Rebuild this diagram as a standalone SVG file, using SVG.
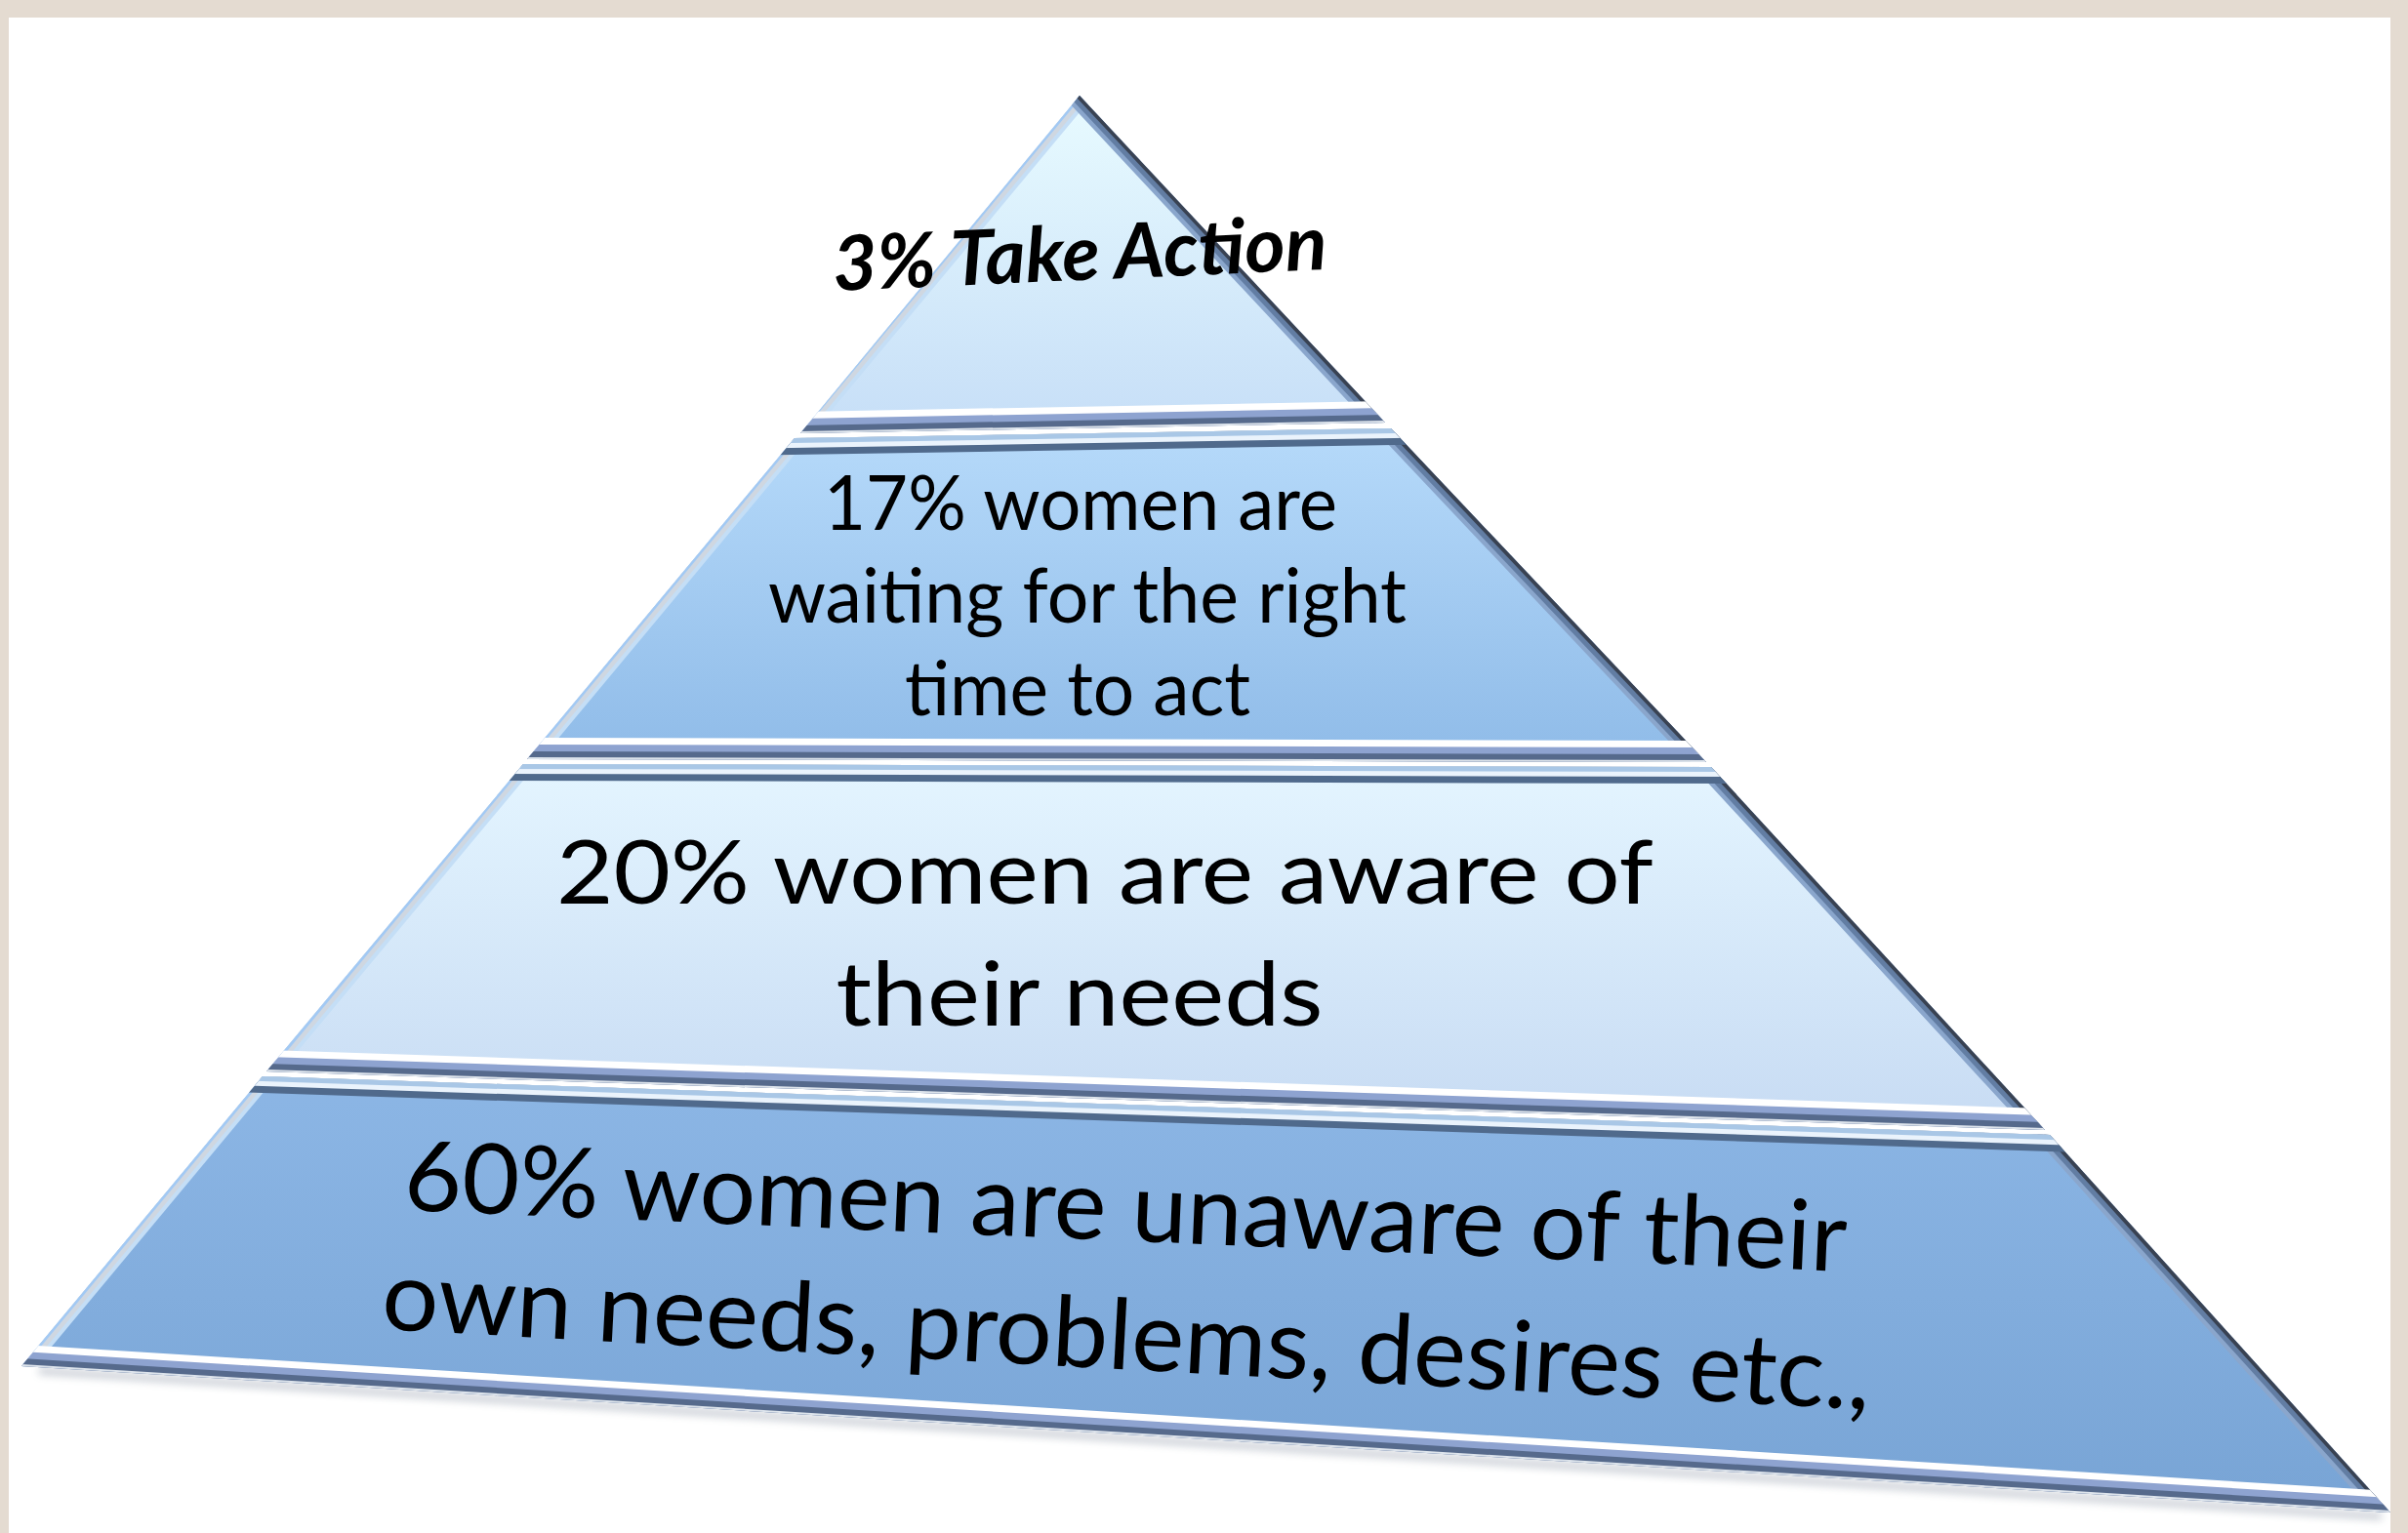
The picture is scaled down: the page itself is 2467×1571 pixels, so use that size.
<svg xmlns="http://www.w3.org/2000/svg" width="2467" height="1571" viewBox="0 0 2467 1571">
<defs>
<style>
.t{font-family:Lato,"Open Sans","Liberation Sans",sans-serif;fill:#000;}
.s{fill:none;stroke-linejoin:miter;}
.bl1{stroke:#ffffff;stroke-width:44;}
.bl2{stroke:#8ea3d0;stroke-width:30;}
.bl3{stroke:#566a8c;stroke-width:16;}
.bl4{stroke:#dde4ec;stroke-width:4;}
.tp1{stroke:#506a8c;stroke-width:34;}
.tp2{stroke:#eaf3fc;stroke-width:20;}
.tp3{stroke:#a9c7e6;stroke-width:10;}
.r1{stroke:#8aa6cc;stroke-width:26;}
.r2{stroke:#627da3;stroke-width:17;}
.r3{stroke:#394252;stroke-width:7;}
.l1{stroke:#c4def6;stroke-width:22;}
.l2{stroke:#cfd7e1;stroke-width:14;}
.l3{stroke:#a2c9f4;stroke-width:5;}
</style>
<linearGradient id="g1" x1="0" y1="0" x2="0" y2="1"><stop offset="0" stop-color="#e8fbff"/><stop offset="1" stop-color="#c6def7"/></linearGradient>
<linearGradient id="g2" x1="0" y1="0" x2="0" y2="1"><stop offset="0" stop-color="#b6dafa"/><stop offset="1" stop-color="#8fbbe8"/></linearGradient>
<linearGradient id="g3" x1="0" y1="0" x2="0" y2="1"><stop offset="0" stop-color="#e4f5ff"/><stop offset="1" stop-color="#c7dbf3"/></linearGradient>
<linearGradient id="g4" x1="0" y1="0" x2="0" y2="1"><stop offset="0" stop-color="#8cb6e5"/><stop offset="1" stop-color="#78a4d5"/></linearGradient>
<clipPath id="c1"><polygon points="1106,98 1419,433 820,444"/></clipPath>
<clipPath id="c2"><polygon points="814,449 1425,439 1748,781 540,778"/></clipPath>
<clipPath id="c3"><polygon points="536,783 1753,786 2095,1158 273,1098"/></clipPath>
<clipPath id="c4"><polygon points="269,1103 2100,1163 2449,1550 22,1400"/></clipPath>
<polyline id="ledge" points="1156,38 -28,1460"/>
<polyline id="redge" points="1050,38 1106,98 1418,432 1747,780 2095,1158 2449,1550 2503,1610"/>
<filter id="blur" x="-5%" y="-50%" width="110%" height="200%"><feGaussianBlur stdDeviation="4"/></filter>
</defs>

<rect x="0" y="0" width="2467" height="1571" fill="#e4dbd1"/>
<rect x="9" y="18" width="2440" height="1553" fill="#ffffff"/>

<line x1="40" y1="1405" x2="2440" y2="1554" stroke="#4a5a72" stroke-width="6" opacity="0.35" filter="url(#blur)"/>

<g id="layer1" clip-path="url(#c1)">
  <polygon points="1106,98 1419,433 820,444" fill="url(#g1)"/>
  <use href="#ledge" class="s l1"/><use href="#ledge" class="s l2"/><use href="#ledge" class="s l3"/>
  <use href="#redge" class="s r1"/><use href="#redge" class="s r2"/><use href="#redge" class="s r3"/>
  <line x1="700" y1="446.2" x2="1550" y2="430.6" class="s bl1"/>
  <line x1="700" y1="446.2" x2="1550" y2="430.6" class="s bl2"/>
  <line x1="700" y1="446.2" x2="1550" y2="430.6" class="s bl3"/>
  <line x1="700" y1="446.2" x2="1550" y2="430.6" class="s bl4"/>
</g>

<g id="layer2" clip-path="url(#c2)">
  <polygon points="814,449 1425,439 1748,781 540,778" fill="url(#g2)"/>
  <use href="#ledge" class="s l1"/><use href="#ledge" class="s l2"/><use href="#ledge" class="s l3"/>
  <use href="#redge" class="s r1"/><use href="#redge" class="s r2"/><use href="#redge" class="s r3"/>
  <line x1="700" y1="450.9" x2="1550" y2="437" class="s tp1"/>
  <line x1="700" y1="450.9" x2="1550" y2="437" class="s tp2"/>
  <line x1="700" y1="450.9" x2="1550" y2="437" class="s tp3"/>
  <line x1="400" y1="777.65" x2="1900" y2="781.4" class="s bl1"/>
  <line x1="400" y1="777.65" x2="1900" y2="781.4" class="s bl2"/>
  <line x1="400" y1="777.65" x2="1900" y2="781.4" class="s bl3"/>
  <line x1="400" y1="777.65" x2="1900" y2="781.4" class="s bl4"/>
</g>

<g id="layer3" clip-path="url(#c3)">
  <polygon points="536,783 1753,786 2095,1158 273,1098" fill="url(#g3)"/>
  <use href="#ledge" class="s l1"/><use href="#ledge" class="s l2"/><use href="#ledge" class="s l3"/>
  <use href="#redge" class="s r1"/><use href="#redge" class="s r2"/><use href="#redge" class="s r3"/>
  <line x1="400" y1="782.7" x2="1900" y2="786.4" class="s tp1"/>
  <line x1="400" y1="782.7" x2="1900" y2="786.4" class="s tp2"/>
  <line x1="400" y1="782.7" x2="1900" y2="786.4" class="s tp3"/>
  <line x1="100" y1="1092.3" x2="2250" y2="1163.1" class="s bl1"/>
  <line x1="100" y1="1092.3" x2="2250" y2="1163.1" class="s bl2"/>
  <line x1="100" y1="1092.3" x2="2250" y2="1163.1" class="s bl3"/>
  <line x1="100" y1="1092.3" x2="2250" y2="1163.1" class="s bl4"/>
</g>

<g id="layer4" clip-path="url(#c4)">
  <polygon points="269,1103 2100,1163 2449,1550 22,1400" fill="url(#g4)"/>
  <use href="#ledge" class="s l1"/><use href="#ledge" class="s l2"/><use href="#ledge" class="s l3"/>
  <use href="#redge" class="s r1"/><use href="#redge" class="s r2"/><use href="#redge" class="s r3"/>
  <line x1="100" y1="1097.5" x2="2250" y2="1167.9" class="s tp1"/>
  <line x1="100" y1="1097.5" x2="2250" y2="1167.9" class="s tp2"/>
  <line x1="100" y1="1097.5" x2="2250" y2="1167.9" class="s tp3"/>
  <line x1="-50" y1="1395.5" x2="2520" y2="1554.4" class="s bl1"/>
  <line x1="-50" y1="1395.5" x2="2520" y2="1554.4" class="s bl2"/>
  <line x1="-50" y1="1395.5" x2="2520" y2="1554.4" class="s bl3"/>
  <line x1="-50" y1="1395.5" x2="2520" y2="1554.4" class="s bl4"/>
</g>

<g id="labels">
  <text class="t" x="854" y="298" font-size="78" font-weight="bold" font-style="italic" textLength="507" lengthAdjust="spacingAndGlyphs" transform="rotate(-2.5 854 298)">3% Take Action</text>
  <text class="t" x="1107" y="543" font-size="78" text-anchor="middle" textLength="526" lengthAdjust="spacingAndGlyphs">17% women are</text>
  <text class="t" x="1114" y="638" font-size="78" text-anchor="middle" textLength="654" lengthAdjust="spacingAndGlyphs">waiting for the right</text>
  <text class="t" x="1104" y="733" font-size="78" text-anchor="middle" textLength="354" lengthAdjust="spacingAndGlyphs">time to act</text>
  <text class="t" x="1132" y="926" font-size="92" text-anchor="middle" textLength="1124" lengthAdjust="spacingAndGlyphs">20% women are aware of</text>
  <text class="t" x="1106" y="1051" font-size="92" text-anchor="middle" textLength="499" lengthAdjust="spacingAndGlyphs">their needs</text>
  <text class="t" x="413" y="1240" font-size="100" textLength="1479" lengthAdjust="spacingAndGlyphs" transform="rotate(2.44 413 1240)">60% women are unaware of their</text>
  <text class="t" x="390" y="1362" font-size="100" textLength="1527" lengthAdjust="spacingAndGlyphs" transform="rotate(3.1 390 1362)">own needs, problems, desires etc.,</text>
</g>
</svg>
